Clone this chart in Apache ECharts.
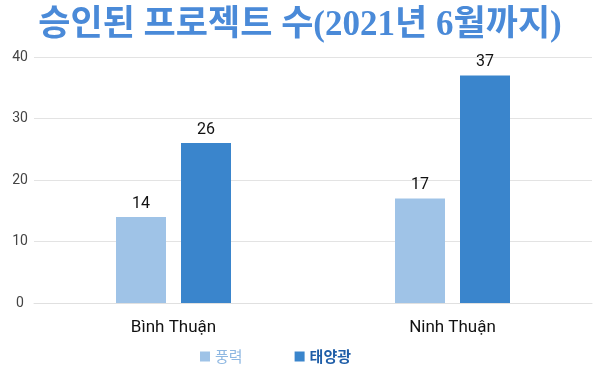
<!DOCTYPE html>
<html><head><meta charset="utf-8">
<script src="https://cdn.jsdelivr.net/npm/echarts@6/dist/echarts.min.js"></script>
<style>html,body{margin:0;padding:0;background:#fff}#c{width:600px;height:371px}</style>
</head><body><div id="c"></div>
<script>
const categories = ["Bình Thuận", "Ninh Thuận"];
const windValues = [14, 17];
const solarValues = [26, 37];
const seriesNames = ["풍력", "태양광"];
const yTicks = [0, 10, 20, 30, 40];

const chart = echarts.init(document.getElementById('c'));
chart.setOption({
  animation: false,
  backgroundColor: '#ffffff',
  title: {
    text: '승인된 프로젝트 수(2021년 6월까지)',
    left: 'center', top: 3,
    textStyle: { fontFamily: '"Liberation Serif", "Noto Sans CJK KR"', fontSize: 35, fontWeight: 'bold', color: '#4a8ad8' }
  },
  legend: {
    data: [
      { name: seriesNames[0], textStyle: { color: '#8fb8e2', fontWeight: 'normal' } },
      { name: seriesNames[1], textStyle: { color: '#1f5ea8', fontWeight: 'bold' } }
    ],
    left: 195, top: 344,
    itemWidth: 10, itemHeight: 10, itemGap: 52, icon: 'rect',
    textStyle: { fontFamily: 'Noto Sans CJK KR', fontSize: 15 }
  },
  grid: { left: 34, right: 8, top: 57, bottom: 68 },
  xAxis: {
    type: 'category', data: categories,
    axisLine: { show: true, lineStyle: { color: '#e0e0e0' } },
    axisTick: { show: false },
    axisLabel: { color: '#111', fontSize: 17, fontFamily: 'Roboto', margin: 16 }
  },
  yAxis: {
    type: 'value', min: yTicks[0], max: yTicks[yTicks.length - 1], interval: 10,
    axisLine: { show: false }, axisTick: { show: false },
    axisLabel: { color: '#444', fontSize: 14, fontFamily: 'Roboto', margin: 14, align: 'center' },
    splitLine: { lineStyle: { color: '#e3e3e3' } }
  },
  series: [
    { name: seriesNames[0], type: 'bar', data: windValues, barWidth: 50, barGap: '30%',
      itemStyle: { color: '#9fc3e7' },
      label: { show: true, position: 'top', color: '#111', fontSize: 16, fontFamily: 'Roboto' } },
    { name: seriesNames[1], type: 'bar', data: solarValues, barWidth: 50,
      itemStyle: { color: '#3a85cc' },
      label: { show: true, position: 'top', color: '#111', fontSize: 16, fontFamily: 'Roboto' } }
  ]
});
</script></body></html>
